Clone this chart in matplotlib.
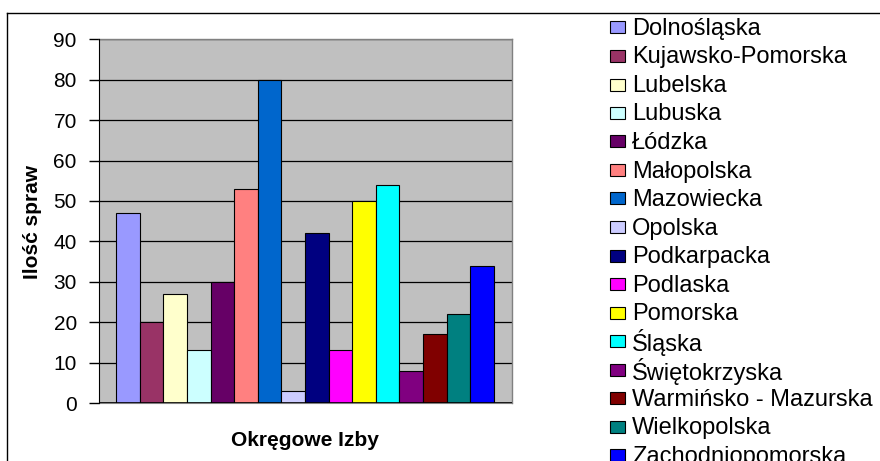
import numpy as np
import matplotlib
matplotlib.use("Agg")
import matplotlib.pyplot as plt
from matplotlib.patches import Rectangle
from matplotlib.lines import Line2D

# dane
izby = ['Dolnośląska', 'Kujawsko-Pomorska', 'Lubelska', 'Lubuska', 'Łódzka',
        'Małopolska', 'Mazowiecka', 'Opolska', 'Podkarpacka', 'Podlaska',
        'Pomorska', 'Śląska', 'Świętokrzyska', 'Warmińsko - Mazurska',
        'Wielkopolska', 'Zachodniopomorska']
sprawy = [47, 20, 27, 13, 30, 53, 80, 3, 42, 13, 50, 54, 8, 17, 22, 34]
kolory = ['#9999FF', '#993366', '#FFFFCC', '#CCFFFF', '#660066', '#FF8080',
          '#0066CC', '#CCCCFF', '#000080', '#FF00FF', '#FFFF00', '#00FFFF',
          '#800080', '#800000', '#008080', '#0000FF']

plt.rcParams['font.family'] = ['Liberation Sans', 'DejaVu Sans']

W, H = 880, 461
fig = plt.figure(figsize=(W / 100, H / 100), dpi=100)
fig.patch.set_facecolor('white')

# ramka wykresu (przycieta)
fig.add_artist(Line2D([7 / W, 1], [1 - 12.7 / H, 1 - 12.7 / H], color='black', lw=1))
fig.add_artist(Line2D([7 / W, 7 / W], [0, 1 - 12.7 / H], color='black', lw=1))

ax = fig.add_axes([99 / W, 1 - 403 / H, 413 / W, 363.7 / H])
ax.set_facecolor('#C0C0C0')

x = np.arange(len(sprawy))
ax.bar(x, sprawy, width=1.0, color=kolory, edgecolor='black', linewidth=0.8, zorder=3)

ax.set_ylim(0, 90)
ax.set_yticks(range(0, 91, 10))
ax.set_xlim(-0.5 - 17 / 23.6, 15.5 + 18 / 23.6)
ax.set_xticks([])
ax.grid(axis='y', color='black', linewidth=0.9, zorder=1)
ax.set_axisbelow(True)

for s in ['top', 'right']:
    ax.spines[s].set_color('#808080')
    ax.spines[s].set_linewidth(1)
ax.spines['left'].set_color('black')
ax.spines['bottom'].set_color('#808080')
ax.spines['left'].set_zorder(4)
ax.axhline(0, color='black', lw=1.2, zorder=4)

ax.tick_params(axis='y', direction='out', length=7, width=1, pad=9, labelsize=15)

fig.text(33 / W, 1 - 222 / H, 'Ilość spraw', rotation=90, ha='center', va='center',
         fontsize=15, fontweight='bold')
fig.text(305 / W, 1 - 440 / H, 'Okręgowe Izby', ha='center', va='center',
         fontsize=15, fontweight='bold')

# legenda
for i, (nazwa, kol) in enumerate(zip(izby, kolory)):
    yc = 27.5 + i * 28.5
    fig.add_artist(Rectangle((610 / W, 1 - (yc + 6) / H), 15 / W, 12 / H,
                             facecolor=kol, edgecolor='black', linewidth=0.8,
                             transform=fig.transFigure))
    fig.text(632 / W, 1 - (yc + 1.5) / H, nazwa, ha='left', va='center', fontsize=17)

fig.savefig('out.png', dpi=100)
